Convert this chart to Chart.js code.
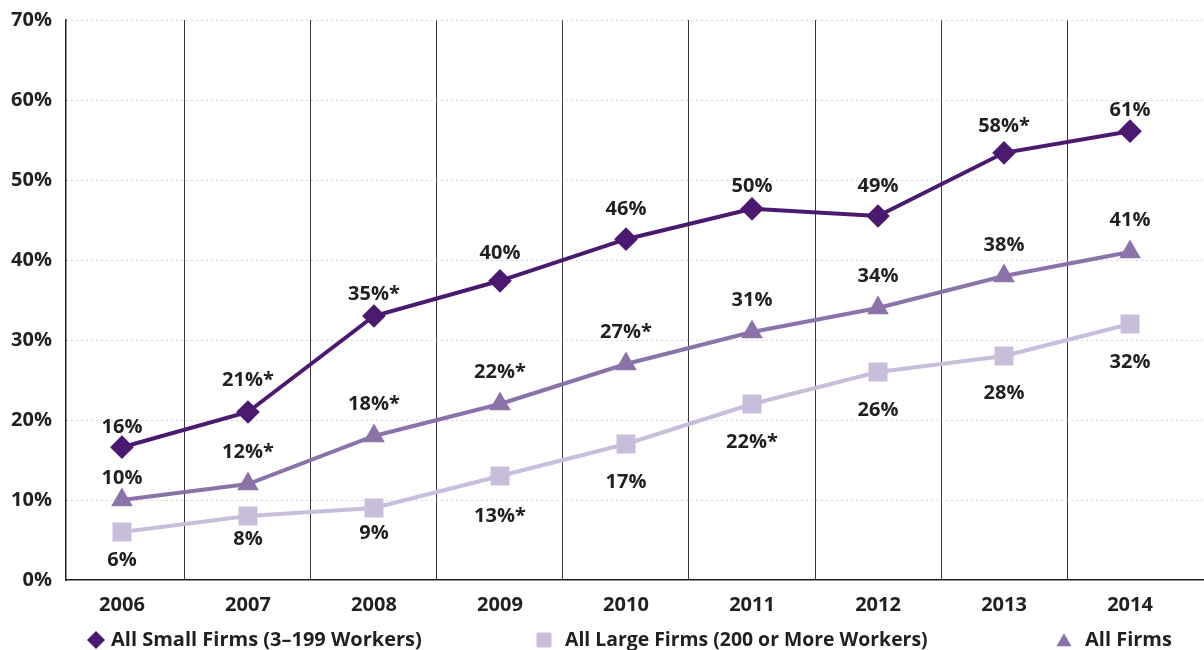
<!DOCTYPE html>
<html>
<head>
<meta charset="utf-8">
<script src="https://cdn.jsdelivr.net/npm/chart.js@4.4.1/dist/chart.umd.min.js"></script>
<style>
  html, body { margin: 0; padding: 0; background: #fff; }
  #wrap { width: 1204px; height: 650px; }
</style>
</head>
<body>
<div id="wrap"><canvas id="chart"></canvas></div>
<script>
const years = ['2006', '2007', '2008', '2009', '2010', '2011', '2012', '2013', '2014'];

// small firm markers sit where the picture has them, the labels carry the printed values
const smallFirms = [16.6, 21.0, 33.0, 37.4, 42.6, 46.4, 45.5, 53.4, 56.1];
const smallFirmsLabels = ['16%', '21%*', '35%*', '40%', '46%', '50%', '49%', '58%*', '61%'];

const largeFirms = [6, 8, 9, 13, 17, 22, 26, 28, 32];
const largeFirmsLabels = ['6%', '8%', '9%', '13%*', '17%', '22%*', '26%', '28%', '32%'];

const allFirms = [10, 12, 18, 22, 27, 31, 34, 38, 41];
const allFirmsLabels = ['10%', '12%*', '18%*', '22%*', '27%*', '31%', '34%', '38%', '41%'];

const yTicks = [0, 10, 20, 30, 40, 50, 60, 70];

const TEXT = '#231f20';
const FONT = '"Open Sans", sans-serif';

// --- label offsets (px from marker) ---
const labelOffsets = [
    [-20, -32, -22, -28, -30, -23, -30, -27, -21],
    [28, 23, 25, 40, 38, 38, 38, 37, 38],
    [-22, -32, -32, -32, -32, -32, -32, -31, -32]
];

const legendSpots = [
    { markerX: 96, textX: 111, radius: 9, size: 20 },
    { markerX: 544, textX: 565, radius: 10.6, size: 19.4 },
    { markerX: 1064, textX: 1085, radius: 8.7, size: 20 }
];

const toPoints = arr => arr.map((v, i) => ({ x: i, y: v }));

const valueLabels = {
    id: 'valueLabels',
    afterDatasetsDraw(chart) {
        const ctx = chart.ctx;
        ctx.save();
        ctx.font = 'bold 20px ' + FONT;
        ctx.fillStyle = TEXT;
        ctx.textAlign = 'center';
        ctx.textBaseline = 'middle';
        chart.data.datasets.forEach((ds, di) => {
            const meta = chart.getDatasetMeta(di);
            meta.data.forEach((pt, i) => {
                ctx.fillText(ds.valueLabels[i], pt.x, pt.y + labelOffsets[di][i]);
            });
        });
        ctx.restore();
    }
};

const bottomLegend = {
    id: 'bottomLegend',
    afterDraw(chart) {
        const ctx = chart.ctx;
        const y = 640;
        ctx.save();
        chart.data.datasets.forEach((ds, di) => {
            const spot = legendSpots[di];
            ctx.fillStyle = ds.pointBackgroundColor;
            Chart.helpers.drawPoint(ctx, {
                pointStyle: ds.pointStyle,
                radius: spot.radius,
                rotation: 0,
                borderWidth: 0
            }, spot.markerX, y + (ds.pointStyle === 'triangle' ? 2 : 0));
            ctx.fillStyle = TEXT;
            ctx.font = 'bold ' + spot.size + 'px ' + FONT;
            ctx.textAlign = 'left';
            ctx.textBaseline = 'middle';
            ctx.fillText(ds.label, spot.textX, y);
        });
        ctx.restore();
    }
};

const xMin = -0.444;
const xMax = 8.587;

new Chart(document.getElementById('chart'), {
    type: 'line',
    data: {
        datasets: [
            {
                label: 'All Small Firms (3\u2013199 Workers)',
                data: toPoints(smallFirms),
                valueLabels: smallFirmsLabels,
                borderColor: '#4b196f',
                backgroundColor: '#4b196f',
                pointBackgroundColor: '#4b196f',
                pointStyle: 'rectRot',
                pointRadius: 9,
                borderWidth: 4
            },
            {
                label: 'All Large Firms (200 or More Workers)',
                data: toPoints(largeFirms),
                valueLabels: largeFirmsLabels,
                borderColor: '#c8bdda',
                backgroundColor: '#c8bdda',
                pointBackgroundColor: '#c8bdda',
                pointStyle: 'rect',
                pointRadius: 10.6,
                borderWidth: 4
            },
            {
                label: 'All Firms',
                data: toPoints(allFirms),
                valueLabels: allFirmsLabels,
                borderColor: '#8b73a9',
                backgroundColor: '#8b73a9',
                pointBackgroundColor: '#8b73a9',
                pointStyle: 'triangle',
                pointRadius: 8.5,
                borderWidth: 4
            }
        ]
    },
    options: {
        responsive: true,
        maintainAspectRatio: false,
        animation: false,
        events: [],
        layout: { autoPadding: false, padding: { top: 20, left: 0, right: 0, bottom: 0 } },
        elements: {
            line: { tension: 0 },
            point: { borderWidth: 0 }
        },
        plugins: {
            legend: { display: false },
            tooltip: { enabled: false }
        },
        scales: {
            x: {
                type: 'linear',
                position: 'bottom',
                min: xMin,
                max: xMax,
                afterBuildTicks: axis => { axis.ticks = years.map((_, i) => ({ value: i })); },
                afterFit: axis => {
                    axis.height = 70;
                    axis.paddingLeft = 0;
                    axis.paddingRight = 0;
                },
                grid: { display: false, drawTicks: false },
                border: { display: true, color: TEXT, width: 1.5 },
                ticks: {
                    padding: 13,
                    color: TEXT,
                    font: { family: FONT, size: 20, weight: 'bold' },
                    callback: v => years[v],
                    autoSkip: false,
                    maxRotation: 0
                }
            },
            xg: {
                type: 'linear',
                position: 'bottom',
                min: xMin,
                max: xMax,
                afterBuildTicks: axis => {
                    axis.ticks = years.slice(1).map((_, i) => ({ value: i + 0.5 }));
                },
                afterFit: axis => {
                    axis.height = 0;
                    axis.paddingLeft = 0;
                    axis.paddingRight = 0;
                },
                grid: { color: '#3d3a3b', lineWidth: 1, drawTicks: false },
                border: { display: false },
                ticks: { display: false }
            },
            y: {
                min: 0,
                max: 70,
                afterBuildTicks: axis => { axis.ticks = yTicks.map(v => ({ value: v })); },
                afterFit: axis => {
                    axis.width = 66;
                    axis.paddingTop = 0;
                    axis.paddingBottom = 0;
                },
                grid: {
                    drawTicks: false,
                    color: ctx => ctx.tick && ctx.tick.value === 0 ? 'rgba(0,0,0,0)' : '#ababab',
                    lineWidth: 1
                },
                border: { display: true, color: TEXT, width: 1.5, dash: [1, 4] },
                ticks: {
                    padding: 14,
                    color: TEXT,
                    font: { family: FONT, size: 20, weight: 'bold' },
                    callback: v => v + '%'
                }
            }
        }
    },
    plugins: [valueLabels, bottomLegend]
});
</script>
</body>
</html>
